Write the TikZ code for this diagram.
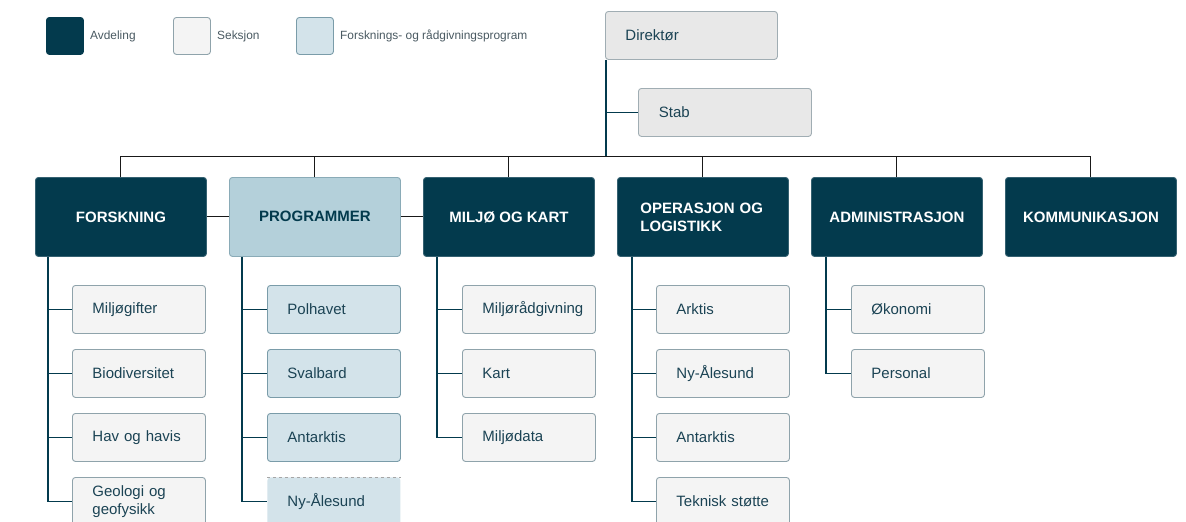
\documentclass[tikz,border=0pt]{standalone}
\usepackage{fontspec}
\setmainfont{Liberation Sans}
\definecolor{dark}{HTML}{033A4D}
\definecolor{secfill}{HTML}{F4F4F4}
\definecolor{secdraw}{HTML}{8FA3AB}
\definecolor{prgfill}{HTML}{D3E3EA}
\definecolor{prgdraw}{HTML}{7A9CA9}
\definecolor{prgdept}{HTML}{B4D0DA}
\definecolor{prgdeptdraw}{HTML}{8AABB7}
\definecolor{topfill}{HTML}{E8E8E8}
\definecolor{topdraw}{HTML}{A0ADB3}
\definecolor{txt}{HTML}{1B4354}
\definecolor{legtxt}{HTML}{4A5A62}
\tikzset{
  base/.style={anchor=north west, rounded corners=3pt, line width=0.9pt},
  dept/.style={base, fill=dark, draw=dark!80!white, minimum width=171pt, minimum height=79pt,
    text=white, font=\fontsize{15}{18}\selectfont\bfseries, align=center, inner sep=0pt},
  pdept/.style={base, fill=prgdept, draw=prgdeptdraw, minimum width=171pt, minimum height=79pt,
    text=dark, font=\fontsize{15}{18}\selectfont\bfseries, align=center, inner sep=0pt},
  sec/.style={base, fill=secfill, draw=secdraw, minimum width=133pt, minimum height=48pt,
    text width=93pt, inner xsep=20pt, inner ysep=0pt, align=left, text=txt,
    font=\fontsize{15}{18}\selectfont},
  psec/.style={sec, fill=prgfill, draw=prgdraw},
  top/.style={base, fill=topfill, draw=topdraw, minimum width=172pt, minimum height=48pt,
    text width=132pt, inner xsep=20pt, inner ysep=0pt, align=left, text=txt,
    font=\fontsize{15}{18}\selectfont},
  legbox/.style={base, minimum width=37pt, minimum height=37pt, inner sep=0pt},
  legtext/.style={anchor=west, text=legtxt, font=\fontsize{11.9}{14}\selectfont, inner sep=0pt},
  bus/.style={line width=1pt, black!90},
  tree/.style={line width=1.1pt, dark},
}
\begin{document}
\begin{tikzpicture}[x=1pt, y=-1pt]
\clip (0,0) rectangle (1186,522);
\fill[white] (0,0) rectangle (1186,522);

% legend
\node[legbox, fill=dark, draw=dark] (l1) at (46,17) {};
\node[legtext] (l1t) at (90,36) {Avdeling};
\node[legbox, fill=secfill, draw=secdraw] (l2) at (173,17) {};
\node[legtext] (l2t) at (217,36) {Seksjon};
\node[legbox, fill=prgfill, draw=prgdraw] (l3) at (296,17) {};
\node[legtext] (l3t) at (340,36) {Forsknings- og rådgivningsprogram};

% top
\node[top] (dir) at (605,11) {Direktør};
\node[top, minimum width=173pt] (stab) at (638,88) {Stab};

% departments
\node[dept] (forsk) at (35,177) {FORSKNING};
\node[pdept] (prog) at (229,177) {\raisebox{2pt}{PROGRAMMER}};
\node[dept] (milj) at (423,177) {MILJØ OG KART};
\node[dept, align=left, text width=125pt, inner xsep=23pt] (oper) at (617,177) {OPERASJON OG\\LOGISTIKK};
\node[dept] (admin) at (811,177) {ADMINISTRASJON};
\node[dept] (komm) at (1005,177) {KOMMUNIKASJON};

% connectors top
\coordinate (busc) at (606,156);
\draw[tree] ([xshift=1pt]dir.south west) -- (busc);
\draw[tree] ([xshift=1pt]dir.south west |- stab.west) -- (stab.west);
\draw[bus] (forsk.north) -- (forsk.north |- busc) -- (komm.north |- busc) -- (komm.north);
\foreach \d in {prog,milj,oper,admin} { \draw[bus] (\d.north) -- (\d.north |- busc); }
\draw[bus] (forsk.east) -- (forsk.east -| prog.west);
\draw[bus] (prog.east) -- (prog.east -| milj.west);

% FORSKNING sections
\node[sec] (f1) at (72,285) {Miljøgifter};
\node[sec] (f2) at (72,349) {Biodiversitet};
\node[sec] (f3) at (72,413) {Hav og havis};
\node[sec] (f4) at (72,477) {Geologi og\\geofysikk};
\coordinate (ft) at ([xshift=13pt]forsk.south west);
\draw[tree] (ft) |- (f4.west);
\foreach \s in {f1,f2,f3} { \draw[tree] (ft |- \s.west) -- (\s.west); }

% PROGRAMMER sections
\node[psec] (p1) at (267,285) {Polhavet};
\node[psec] (p2) at (267,349) {Svalbard};
\node[psec] (p3) at (267,413) {Antarktis};
\node[psec, draw=none] (p4) at (267,477) {Ny-Ålesund};
\draw[gray!70, dashed, line width=0.8pt] (p4.north west) -- (p4.north east);
\coordinate (pt) at ([xshift=13pt]prog.south west);
\draw[tree] (pt) |- (p4.west);
\foreach \s in {p1,p2,p3} { \draw[tree] (pt |- \s.west) -- (\s.west); }

% MILJØ sections
\node[sec] (m1) at (462,285) {Miljørådgivning};
\node[sec] (m2) at (462,349) {Kart};
\node[sec] (m3) at (462,413) {Miljødata};
\coordinate (mt) at ([xshift=14pt]milj.south west);
\draw[tree] (mt) |- (m3.west);
\foreach \s in {m1,m2} { \draw[tree] (mt |- \s.west) -- (\s.west); }

% OPERASJON sections
\node[sec] (o1) at (656,285) {Arktis};
\node[sec] (o2) at (656,349) {Ny-Ålesund};
\node[sec] (o3) at (656,413) {Antarktis};
\node[sec] (o4) at (656,477) {Teknisk støtte};
\coordinate (ot) at ([xshift=15pt]oper.south west);
\draw[tree] (ot) |- (o4.west);
\foreach \s in {o1,o2,o3} { \draw[tree] (ot |- \s.west) -- (\s.west); }

% ADMIN sections
\node[sec] (a1) at (851,285) {Økonomi};
\node[sec] (a2) at (851,349) {Personal};
\coordinate (at) at ([xshift=15pt]admin.south west);
\draw[tree] (at) |- (a2.west);
\draw[tree] (at |- a1.west) -- (a1.west);
\end{tikzpicture}
\end{document}
